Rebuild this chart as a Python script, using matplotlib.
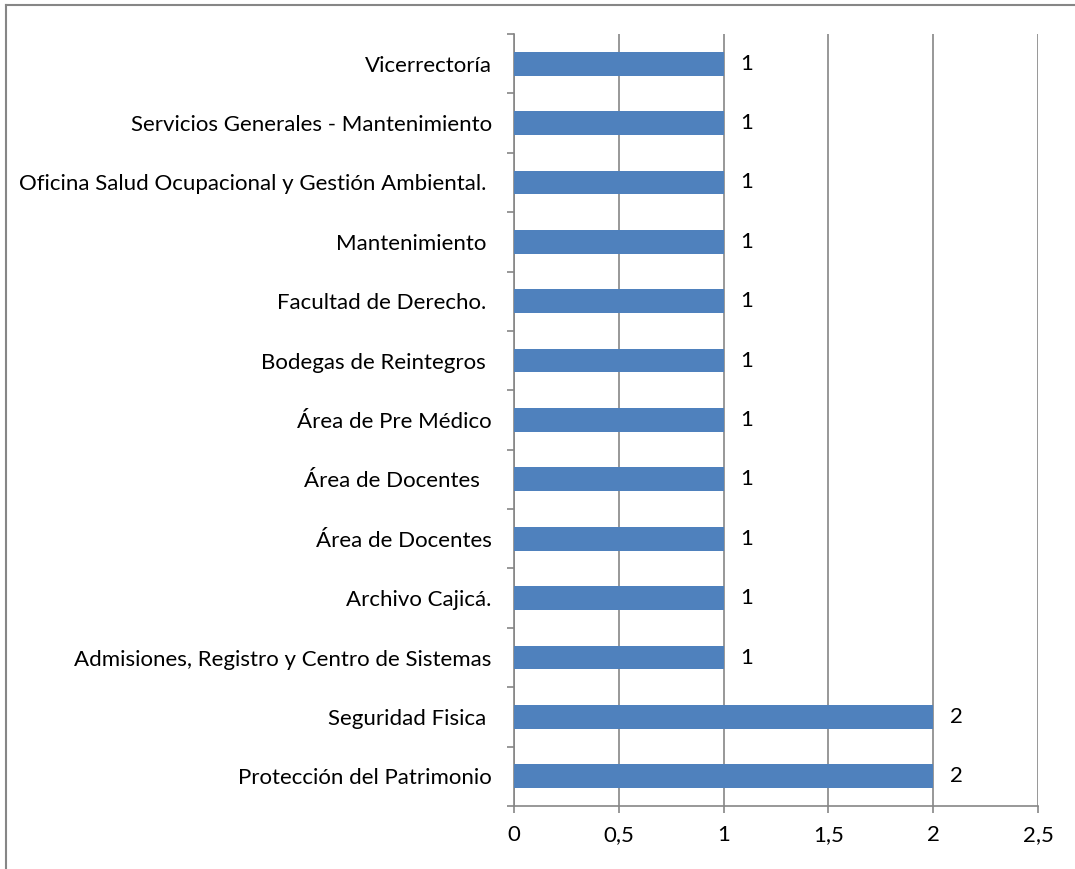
import matplotlib
matplotlib.use('Agg')
import matplotlib.pyplot as plt
from matplotlib.lines import Line2D

plt.rcParams['font.family'] = ['Lato', 'DejaVu Sans']

# datos (de abajo hacia arriba)
areas = ['Protección del Patrimonio', 'Seguridad Fisica ', 'Admisiones, Registro y Centro de Sistemas',
         'Archivo Cajicá.', 'Área de Docentes', 'Área de Docentes  ', 'Área de Pre Médico',
         'Bodegas de Reintegros ', 'Facultad de Derecho. ', 'Mantenimiento ',
         'Oficina Salud Ocupacional y Gestión Ambiental. ', 'Servicios Generales - Mantenimiento',
         'Vicerrectoría']
valores = [2, 2, 1, 1, 1, 1, 1, 1, 1, 1, 1, 1, 1]
xticks = [0, 0.5, 1, 1.5, 2, 2.5]
xlabels = ['0', '0,5', '1', '1,5', '2', '2,5']

gris = '#868686'
fs = 16
fig = plt.figure(figsize=(10.75, 8.69), dpi=100)
ax = fig.add_axes([0.478, 0.0725, 0.4878, 0.8884])

pos = list(range(len(areas)))
ax.barh(pos, valores, height=0.4, color='#4F81BD', zorder=3)
for p, v in zip(pos, valores):
    ax.text(v + 0.08, p, str(v), va='center', ha='left', fontsize=fs, color='black')

ax.set_xlim(0, 2.5)
ax.set_ylim(-0.5, len(areas) - 0.5)
ax.set_xticks(xticks)
ax.set_xticklabels(xlabels, fontsize=fs)
ax.set_yticks(pos)
ax.set_yticklabels(areas, fontsize=fs)
ax.set_yticks([p - 0.5 for p in pos] + [len(areas) - 0.5], minor=True)
ax.tick_params(axis='y', which='major', length=0, pad=16)
ax.tick_params(axis='y', which='minor', length=5, color=gris, width=1.2, direction='out')
ax.tick_params(axis='x', length=5, color=gris, width=1.2, direction='out', pad=9)
ax.grid(axis='x', color=gris, linewidth=1.2, zorder=0)
for s in ['top', 'right']:
    ax.spines[s].set_visible(False)
for s in ['left', 'bottom']:
    ax.spines[s].set_color(gris)
    ax.spines[s].set_linewidth(1.2)

# borde del gráfico
fig.add_artist(Line2D([0.0055, 0.0055], [0, 0.994], transform=fig.transFigure, color=gris, lw=1.5))
fig.add_artist(Line2D([0.0055, 1], [0.994, 0.994], transform=fig.transFigure, color=gris, lw=1.5))

fig.savefig('out.png', dpi=100)
